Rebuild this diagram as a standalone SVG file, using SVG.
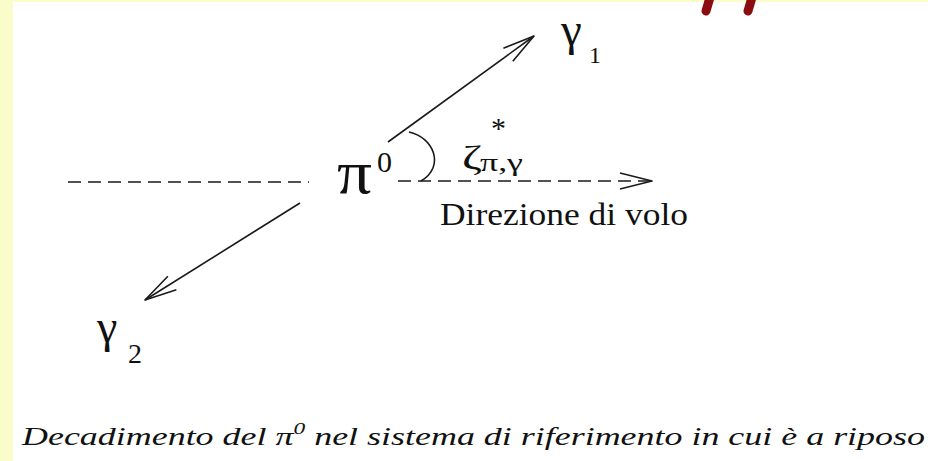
<svg xmlns="http://www.w3.org/2000/svg" width="928" height="461" viewBox="0 0 928 461">
<defs>
<style>
.ln{stroke:#1a1a1a;stroke-width:1.6;fill:none}
.dash{stroke-dasharray:13 7}
.sym{font-family:'Liberation Serif','Times New Roman',Times,'DejaVu Serif',serif;fill:#111}
.cap{font-family:'Liberation Serif','Times New Roman',Times,'DejaVu Serif',serif;font-style:italic;fill:#111}
.frag{stroke:#8c0d10;stroke-width:9;stroke-linecap:round}
</style>
<marker id="ah" viewBox="-2 -2 36 20" refX="32" refY="8" markerWidth="36" markerHeight="20" markerUnits="userSpaceOnUse" orient="auto">
<path d="M0,0 L32,8 L0,16" fill="none" stroke="#1a1a1a" stroke-width="1.6" stroke-linejoin="round"/>
</marker>
</defs>
<rect x="0" y="0" width="928" height="461" fill="#fafcc9"/>
<rect x="13" y="2" width="915" height="459" fill="#ffffff"/>
<g id="fragments">
<line class="frag" x1="711" y1="-6" x2="706" y2="11"/>
<line class="frag" x1="753" y1="-6" x2="748" y2="11"/>
</g>
<g id="connectors">
<line class="ln dash" x1="68" y1="182" x2="309" y2="182"/>
<line class="ln dash" x1="398" y1="181" x2="652" y2="181" marker-end="url(#ah)"/>
<line class="ln" x1="388" y1="142" x2="534" y2="36" marker-end="url(#ah)"/>
<line class="ln" x1="300" y1="203" x2="145" y2="300" marker-end="url(#ah)"/>
<path class="ln" d="M409,132 C433,137 446,166 421,181"/>
</g>
<g id="pi0">
<text class="sym" x="337" y="193" font-size="62" textLength="35" lengthAdjust="spacingAndGlyphs">π</text>
<text class="sym" x="377" y="172" font-size="30">0</text>
</g>
<g id="gamma1">
<text class="sym" x="561" y="45" font-size="47">γ</text>
<text class="sym" x="589" y="63" font-size="24">1</text>
</g>
<g id="gamma2">
<text class="sym" x="97" y="342" font-size="46">γ</text>
<text class="sym" x="128" y="363" font-size="28">2</text>
</g>
<g id="angle">
<text class="sym" x="462" y="169" font-size="34" textLength="20" lengthAdjust="spacingAndGlyphs">ζ</text>
<text class="sym" x="491" y="138" font-size="30">*</text>
<text class="sym" x="480" y="171" font-size="25" textLength="43" lengthAdjust="spacingAndGlyphs">π,γ</text>
</g>
<g id="direction">
<text class="sym" x="440" y="225" font-size="31" textLength="248" lengthAdjust="spacingAndGlyphs">Direzione di volo</text>
</g>
<g id="caption">
<text class="cap" x="22" y="445" font-size="26" textLength="903" lengthAdjust="spacingAndGlyphs">Decadimento del π<tspan font-size="17" dy="-11">0</tspan><tspan dy="11"> nel sistema di riferimento in cui è a riposo</tspan></text>
</g>
</svg>
